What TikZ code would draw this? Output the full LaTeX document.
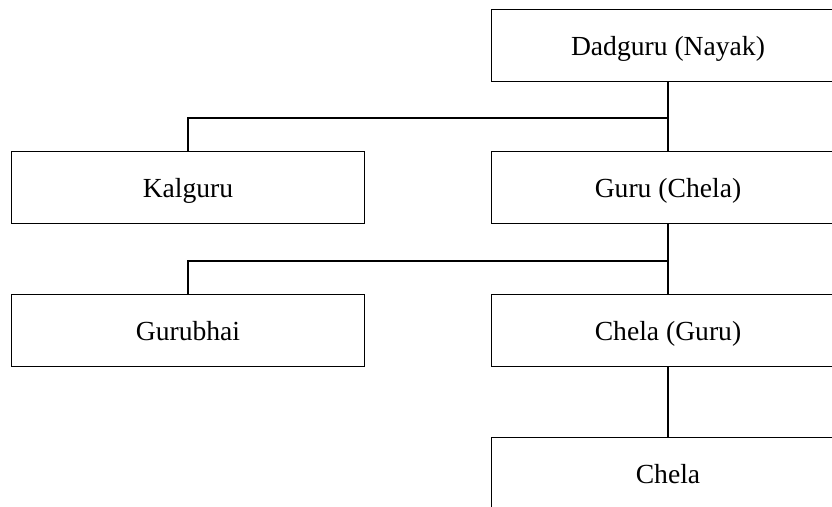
\documentclass[tikz,border=0pt]{standalone}
\usepackage{fontspec}
\setmainfont{Liberation Serif}
\begin{document}
\begin{tikzpicture}[x=1pt,y=1pt,
  box/.style={draw,line width=1pt,minimum width=353pt,minimum height=72pt,inner sep=0pt,
    text height=20pt,text depth=0pt,
    font=\fontsize{27.6}{32}\selectfont},
  link/.style={line width=1.7pt}]
\useasboundingbox (0,0) rectangle (832,-506);
\clip (0,0) rectangle (832,-506);
\fill[white] (0,0) rectangle (832,-506);
\node[box] (dad) at (668,-45) {Dadguru (Nayak)};
\node[box] (kal) at (188,-187.5) {Kalguru};
\node[box] (guru) at (668,-187.5) {Guru (Chela)};
\node[box] (bhai) at (188,-330) {Gurubhai};
\node[box] (cg) at (668,-330.5) {Chela (Guru)};
\node[box] (chela) at (668,-473) {Chela};
\coordinate (j1) at (668,-118);
\coordinate (j2) at (668,-261);
\draw[link] (dad.south) -- (guru.north);
\draw[link] (kal.north) |- (j1);
\draw[link] (guru.south) -- (cg.north);
\draw[link] (bhai.north) |- (j2);
\draw[link] (cg.south) -- (chela.north);
\end{tikzpicture}
\end{document}
